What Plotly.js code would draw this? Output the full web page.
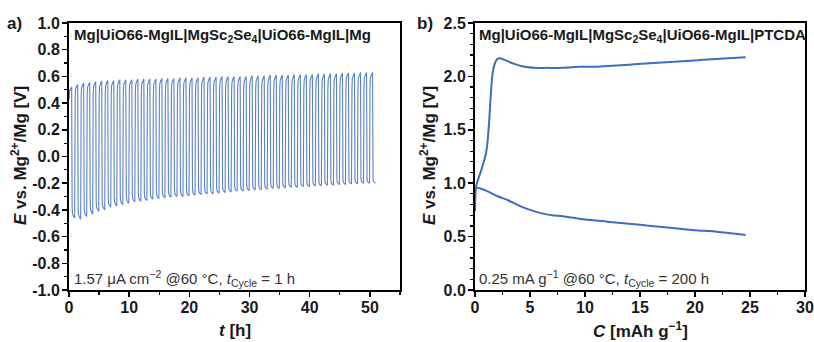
<!DOCTYPE html>
<html>
<head>
<meta charset="utf-8">
<script src="https://cdn.plot.ly/plotly-3.0.1.min.js"></script>
<style>html,body{margin:0;padding:0;background:#fff;}#chart{width:814px;height:342px;}</style>
</head>
<body>
<div id="chart"></div>
<script>
// ---- Panel a: per-cycle peak / trough voltages (V), one cycle per hour ----
const cyclePeaks = [0.52,0.54,0.55,0.555,0.56,0.565,0.57,0.57,0.575,0.575,0.575,0.58,0.58,0.58,0.58,0.585,0.585,0.585,0.59,0.59,0.59,0.59,0.595,0.595,0.595,0.6,0.6,0.6,0.6,0.6,0.605,0.605,0.605,0.61,0.61,0.61,0.61,0.615,0.615,0.615,0.615,0.62,0.62,0.62,0.62,0.625,0.625,0.625,0.63,0.63,0.63];
const cycleTroughs = [-0.46,-0.47,-0.45,-0.43,-0.41,-0.4,-0.38,-0.37,-0.36,-0.35,-0.34,-0.335,-0.33,-0.32,-0.315,-0.31,-0.305,-0.3,-0.3,-0.295,-0.29,-0.285,-0.28,-0.28,-0.275,-0.27,-0.265,-0.26,-0.26,-0.255,-0.25,-0.25,-0.245,-0.24,-0.24,-0.235,-0.23,-0.23,-0.225,-0.225,-0.22,-0.22,-0.215,-0.215,-0.21,-0.21,-0.205,-0.205,-0.2,-0.2,-0.2];
// shape of one half-cycle: fraction of the hour and fraction of the half-cycle extreme
const halfShapeT = [0.02, 0.08, 0.25, 0.44];
const halfShapeF = [0.82, 0.93, 0.97, 1.0];
const yTicksA = [-1.0,-0.8,-0.6,-0.4,-0.2,0.0,0.2,0.4,0.6,0.8,1.0];
const yTickTextA = ['-1.0','-0.8','-0.6','-0.4','-0.2','0.0','0.2','0.4','0.6','0.8','1.0'];

// ---- Panel b: galvanostatic charge / discharge ----
const chargeC = [0,0.05,0.15,0.3,0.5,0.8,1.0,1.15,1.3,1.45,1.6,1.8,2.0,2.3,2.8,3.5,4.5,5.5,6.5,8,9.5,11,12.5,14,15.5,17,18.5,20,21.5,23,24.6];
const chargeE = [0.74,0.92,0.99,1.04,1.1,1.2,1.28,1.4,1.6,1.85,2.03,2.12,2.16,2.17,2.15,2.12,2.09,2.08,2.08,2.08,2.09,2.09,2.1,2.11,2.12,2.13,2.14,2.15,2.16,2.17,2.18];
const dischC = [0,0.5,1,2,3,4,5,6,7,8,10,12,14,16,18,20,22,24.6];
const dischE = [0.96,0.95,0.93,0.88,0.84,0.79,0.75,0.72,0.70,0.69,0.66,0.64,0.62,0.60,0.58,0.56,0.545,0.515];

// build waveform for panel a from the per-cycle values
const tA = [0], eA = [0.5];
for (let k = 0; k < cyclePeaks.length; k++) {
  for (let i = 0; i < halfShapeT.length; i++) { tA.push(k + halfShapeT[i]); eA.push(cyclePeaks[k] * halfShapeF[i]); }
  for (let i = 0; i < halfShapeT.length; i++) { tA.push(k + 0.5 + halfShapeT[i]); eA.push(cycleTroughs[k] * halfShapeF[i]); }
}

const FONT = 'Liberation Sans, Arial, sans-serif';
const blue = '#3f6cbf';
const TOP = 23, BOT = 290, H = BOT - TOP;
const py = (px) => (BOT - px) / H;   // pixel row -> paper y
const px = (p) => p / 814;           // pixel col -> paper x

const traces = [
  {x: tA, y: eA, xaxis: 'x', yaxis: 'y', mode: 'lines', line: {color: '#5a80c8', width: 1.1}, hoverinfo: 'skip'},
  {x: chargeC, y: chargeE, xaxis: 'x2', yaxis: 'y2', mode: 'lines', line: {color: blue, width: 2, shape: 'spline', smoothing: 0.6}},
  {x: dischC, y: dischE, xaxis: 'x2', yaxis: 'y2', mode: 'lines', line: {color: blue, width: 2, shape: 'spline', smoothing: 0.6}}
];

function ax(opts) {
  return Object.assign({
    showline: true, linecolor: '#000', linewidth: 2, mirror: true,
    ticks: 'outside', ticklen: 5, tickwidth: 1.5, tickcolor: '#000',
    showgrid: false, zeroline: false,
    tickfont: {family: FONT, size: 16, color: '#1a1a1a', weight: 'bold'},
    automargin: false
  }, opts);
}
const minor = (d) => ({dtick: d, ticks: 'outside', ticklen: 3, tickwidth: 1.2, tickcolor: '#000'});

const annFont = (size, color) => ({size: size, family: FONT, color: color || '#1a1a1a'});
const layout = {
  width: 814, height: 342,
  margin: {l: 0, r: 0, t: TOP, b: 342 - BOT},
  paper_bgcolor: '#fff', plot_bgcolor: '#fff',
  showlegend: false,
  font: {family: FONT, color: '#222'},
  xaxis: ax({domain: [69/814, 400/814], range: [0, 55], dtick: 10, tick0: 0, minor: minor(5), anchor: 'y', ticklabelstandoff: -3}),
  yaxis: ax({range: [-1, 1], tickmode: 'array', tickvals: yTicksA, ticktext: yTickTextA, minor: minor(0.1), anchor: 'x', ticklabelstandoff: -1}),
  xaxis2: ax({domain: [475/814, 805/814], range: [0, 30], dtick: 5, tick0: 0, minor: minor(2.5), anchor: 'y2', ticklabelstandoff: -3}),
  yaxis2: ax({range: [0, 2.5], dtick: 0.5, tick0: 0, tickformat: '.1f', minor: minor(0.1), anchor: 'x2', ticklabelstandoff: -1}),
  annotations: [
    {text: '<b>a)</b>', xref: 'paper', yref: 'paper', x: px(5), y: py(23), xanchor: 'left', yanchor: 'middle', showarrow: false, font: annFont(17)},
    {text: '<b>b)</b>', xref: 'paper', yref: 'paper', x: px(415), y: py(23), xanchor: 'left', yanchor: 'middle', showarrow: false, font: annFont(17)},
    {text: '<b>Mg|UiO66-MgIL|MgSc<sub>2</sub>Se<sub>4</sub>|UiO66-MgIL|Mg</b>', xref: 'paper', yref: 'paper', x: px(72), y: py(35), xanchor: 'left', yanchor: 'middle', showarrow: false, font: annFont(15)},
    {text: '<b>Mg|UiO66-MgIL|MgSc<sub>2</sub>Se<sub>4</sub>|UiO66-MgIL|PTCDA</b>', xref: 'paper', yref: 'paper', x: px(477), y: py(35), xanchor: 'left', yanchor: 'middle', showarrow: false, font: annFont(15)},
    {text: '1.57 μA cm<sup>−2</sup> @60 °C, <i>t</i><sub>Cycle</sub> = 1 h', xref: 'paper', yref: 'paper', x: px(72), y: py(278), xanchor: 'left', yanchor: 'middle', showarrow: false, font: annFont(15, '#333')},
    {text: '0.25 mA g<sup>−1</sup> @60 °C, <i>t</i><sub>Cycle</sub> = 200 h', xref: 'paper', yref: 'paper', x: px(477), y: py(278), xanchor: 'left', yanchor: 'middle', showarrow: false, font: annFont(15, '#333')},
    {text: '<b><i>E</i> vs. Mg<sup>2+</sup>/Mg [V]</b>', xref: 'paper', yref: 'paper', x: px(19), y: py(156), xanchor: 'center', yanchor: 'middle', textangle: -90, showarrow: false, font: annFont(17)},
    {text: '<b><i>E</i> vs. Mg<sup>2+</sup>/Mg [V]</b>', xref: 'paper', yref: 'paper', x: px(428), y: py(156), xanchor: 'center', yanchor: 'middle', textangle: -90, showarrow: false, font: annFont(17)},
    {text: '<b><i>t</i> [h]</b>', xref: 'paper', yref: 'paper', x: px(235), y: py(330), xanchor: 'center', yanchor: 'middle', showarrow: false, font: annFont(17)},
    {text: '<b><i>C</i> [mAh g<sup>−1</sup>]</b>', xref: 'paper', yref: 'paper', x: px(640), y: py(330), xanchor: 'center', yanchor: 'middle', showarrow: false, font: annFont(17)}
  ]
};

Plotly.newPlot('chart', traces, layout, {displayModeBar: false, staticPlot: true});
</script>
</body>
</html>
